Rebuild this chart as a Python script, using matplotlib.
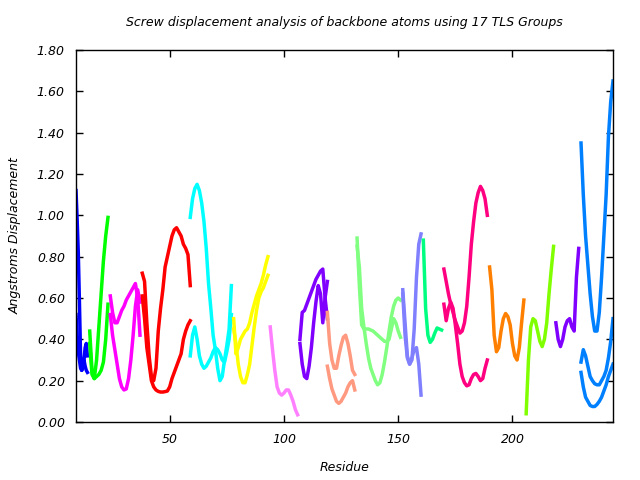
import numpy as np
import matplotlib
matplotlib.use("Agg")
import matplotlib.pyplot as plt

# residue ranges and screw displacement per TLS group (2-3 lines each)
res_01 = [9, 9.5, 10, 10.5, 11, 11.5, 12, 12.5, 13, 13.5, 14]
g01_a = [1.12, 0.98, 0.82, 0.58, 0.32, 0.25, 0.26, 0.30, 0.36, 0.38, 0.32]
g01_b = [0.52, 0.42, 0.34, 0.30, 0.26, 0.25, 0.27, 0.30, 0.27, 0.25, 0.24]

res_02 = [15, 16, 17, 18, 19, 20, 21, 22, 23]
g02_a = [0.44, 0.25, 0.21, 0.30, 0.46, 0.62, 0.78, 0.90, 0.99]
g02_b = [0.38, 0.23, 0.21, 0.22, 0.23, 0.25, 0.29, 0.40, 0.57]

res_03 = [24, 25, 26, 27, 28, 29, 30, 31, 32, 33, 34, 35, 36, 37]
g03_a = [0.61, 0.53, 0.48, 0.48, 0.51, 0.54, 0.56, 0.59, 0.61, 0.63, 0.65, 0.67, 0.60, 0.42]
g03_b = [0.52, 0.42, 0.35, 0.28, 0.21, 0.17, 0.155, 0.16, 0.21, 0.30, 0.42, 0.56, 0.64, 0.58]

res_04 = list(range(38, 60))
g04_a = [0.72, 0.68, 0.48, 0.32, 0.22, 0.20, 0.26, 0.44, 0.55, 0.64, 0.75, 0.80,
         0.85, 0.90, 0.93, 0.94, 0.92, 0.90, 0.86, 0.84, 0.81, 0.66]
g04_b = [0.61, 0.50, 0.36, 0.28, 0.20, 0.17, 0.155, 0.148, 0.145, 0.145, 0.147, 0.15,
         0.17, 0.21, 0.24, 0.27, 0.30, 0.33, 0.40, 0.44, 0.47, 0.49]

res_05 = list(range(59, 78))
g05_a = [0.99, 1.08, 1.13, 1.15, 1.12, 1.06, 0.97, 0.84, 0.67, 0.55, 0.42, 0.35,
         0.26, 0.20, 0.22, 0.30, 0.37, 0.45, 0.66]
g05_b = [0.32, 0.42, 0.46, 0.40, 0.32, 0.28, 0.26, 0.27, 0.29, 0.31, 0.34, 0.36,
         0.35, 0.33, 0.30, 0.29, 0.34, 0.40, 0.52]

res_06 = list(range(78, 94))
g06_a = [0.50, 0.33, 0.36, 0.40, 0.42, 0.44, 0.45, 0.48, 0.53, 0.57, 0.61, 0.64,
         0.67, 0.71, 0.76, 0.80]
g06_b = [0.45, 0.38, 0.28, 0.22, 0.19, 0.19, 0.23, 0.28, 0.37, 0.46, 0.54, 0.60,
         0.63, 0.65, 0.68, 0.71]

res_07 = list(range(94, 107))
g07_a = [0.46, 0.35, 0.25, 0.17, 0.14, 0.13, 0.14, 0.155, 0.155, 0.13, 0.10, 0.06, 0.035]

res_08 = list(range(107, 120))
g08_a = [0.40, 0.53, 0.54, 0.57, 0.60, 0.63, 0.66, 0.69, 0.71, 0.73, 0.74, 0.60, 0.50]
g08_b = [0.38, 0.28, 0.22, 0.21, 0.27, 0.36, 0.48, 0.58, 0.66, 0.62, 0.48, 0.60, 0.68]

res_09 = list(range(119, 132))
g09_a = [0.53, 0.38, 0.30, 0.26, 0.26, 0.32, 0.37, 0.41, 0.42, 0.38, 0.32, 0.25, 0.23]
g09_b = [0.27, 0.21, 0.16, 0.13, 0.10, 0.09, 0.10, 0.12, 0.14, 0.17, 0.19, 0.20, 0.155]

res_10 = list(range(132, 152))
g10_a = [0.89, 0.66, 0.47, 0.45, 0.45, 0.45, 0.445, 0.44, 0.43, 0.42, 0.41, 0.40,
         0.39, 0.39, 0.40, 0.45, 0.50, 0.48, 0.44, 0.41]
g10_b = [0.85, 0.75, 0.55, 0.46, 0.38, 0.31, 0.26, 0.23, 0.20, 0.18, 0.19, 0.23,
         0.29, 0.36, 0.44, 0.51, 0.56, 0.59, 0.60, 0.59]

res_11 = list(range(152, 161))
g11_a = [0.64, 0.48, 0.32, 0.28, 0.30, 0.45, 0.70, 0.86, 0.91]
g11_b = [0.62, 0.42, 0.31, 0.28, 0.31, 0.35, 0.36, 0.28, 0.13]

res_12 = list(range(161, 170))
g12_a = [0.88, 0.55, 0.42, 0.385, 0.40, 0.43, 0.455, 0.45, 0.445]

res_13 = list(range(170, 190))
g13_a = [0.74, 0.68, 0.62, 0.57, 0.53, 0.49, 0.46, 0.43, 0.44, 0.48, 0.56, 0.70,
         0.86, 0.97, 1.06, 1.11, 1.14, 1.12, 1.08, 1.00]
g13_b = [0.57, 0.49, 0.55, 0.58, 0.55, 0.47, 0.38, 0.28, 0.22, 0.19, 0.175, 0.18,
         0.21, 0.23, 0.235, 0.22, 0.20, 0.21, 0.26, 0.30]

res_14 = list(range(190, 206))
g14_a = [0.75, 0.64, 0.42, 0.34, 0.36, 0.44, 0.50, 0.525, 0.51, 0.47, 0.38, 0.32,
         0.30, 0.36, 0.48, 0.59]

res_15 = list(range(206, 219))
g15_a = [0.04, 0.30, 0.46, 0.50, 0.49, 0.44, 0.39, 0.365, 0.40, 0.48, 0.62, 0.74, 0.85]

res_16 = list(range(219, 230))
g16_a = [0.48, 0.40, 0.365, 0.40, 0.46, 0.49, 0.50, 0.46, 0.44, 0.70, 0.84]

res_17 = list(range(230, 245))
g17_a = [1.35, 1.10, 0.90, 0.76, 0.62, 0.51, 0.44, 0.44, 0.53, 0.70, 0.90, 1.10,
         1.38, 1.55, 1.65]
g17_b = [0.29, 0.35, 0.32, 0.27, 0.22, 0.20, 0.185, 0.18, 0.18, 0.20, 0.22, 0.25,
         0.31, 0.39, 0.50]
g17_c = [0.24, 0.17, 0.12, 0.10, 0.08, 0.075, 0.075, 0.085, 0.10, 0.12, 0.15, 0.18,
         0.22, 0.25, 0.28]

groups = [
    (res_01, [g01_a, g01_b], '#0000ff'),
    (res_02, [g02_a, g02_b], '#00ff00'),
    (res_03, [g03_a, g03_b], '#ff00ff'),
    (res_04, [g04_a, g04_b], '#ff0000'),
    (res_05, [g05_a, g05_b], '#00ffff'),
    (res_06, [g06_a, g06_b], '#ffff00'),
    (res_07, [g07_a], '#ff80ff'),
    (res_08, [g08_a, g08_b], '#8000ff'),
    (res_09, [g09_a, g09_b], '#ff9980'),
    (res_10, [g10_a, g10_b], '#80ff80'),
    (res_11, [g11_a, g11_b], '#8080ff'),
    (res_12, [g12_a], '#00ff80'),
    (res_13, [g13_a, g13_b], '#ff0080'),
    (res_14, [g14_a], '#ff8000'),
    (res_15, [g15_a], '#80ff00'),
    (res_16, [g16_a], '#8000ff'),
    (res_17, [g17_a, g17_b, g17_c], '#0080ff'),
]

fig = plt.figure(figsize=(6.4, 4.8), dpi=100)
ax = fig.add_axes([76 / 640, 1 - 422 / 480, (613 - 76) / 640, (422 - 50) / 480])

for res, lines, color in groups:
    for vals in lines:
        ax.plot(res, vals, color=color, lw=2.5, solid_joinstyle='round')

ax.set_xlim(9, 244)
ax.set_ylim(0, 1.8)
ax.set_xticks([50, 100, 150, 200])
ax.set_yticks(np.arange(0, 1.81, 0.2))
ax.set_yticklabels([f'{v:.2f}' for v in np.arange(0, 1.81, 0.2)])
ax.tick_params(direction='in', length=5, width=1, top=True, right=True,
               labelsize=9, pad=8)
for lab in ax.get_xticklabels() + ax.get_yticklabels():
    lab.set_fontstyle('italic')
for s in ax.spines.values():
    s.set_linewidth(1)

ax.set_title('Screw displacement analysis of backbone atoms using 17 TLS Groups',
             fontsize=9, style='italic', pad=17)
ax.set_xlabel('Residue', fontsize=9, style='italic', labelpad=11)
ax.set_ylabel('Angstroms Displacement', fontsize=9, style='italic', labelpad=11)

fig.savefig('out.png', dpi=100)
